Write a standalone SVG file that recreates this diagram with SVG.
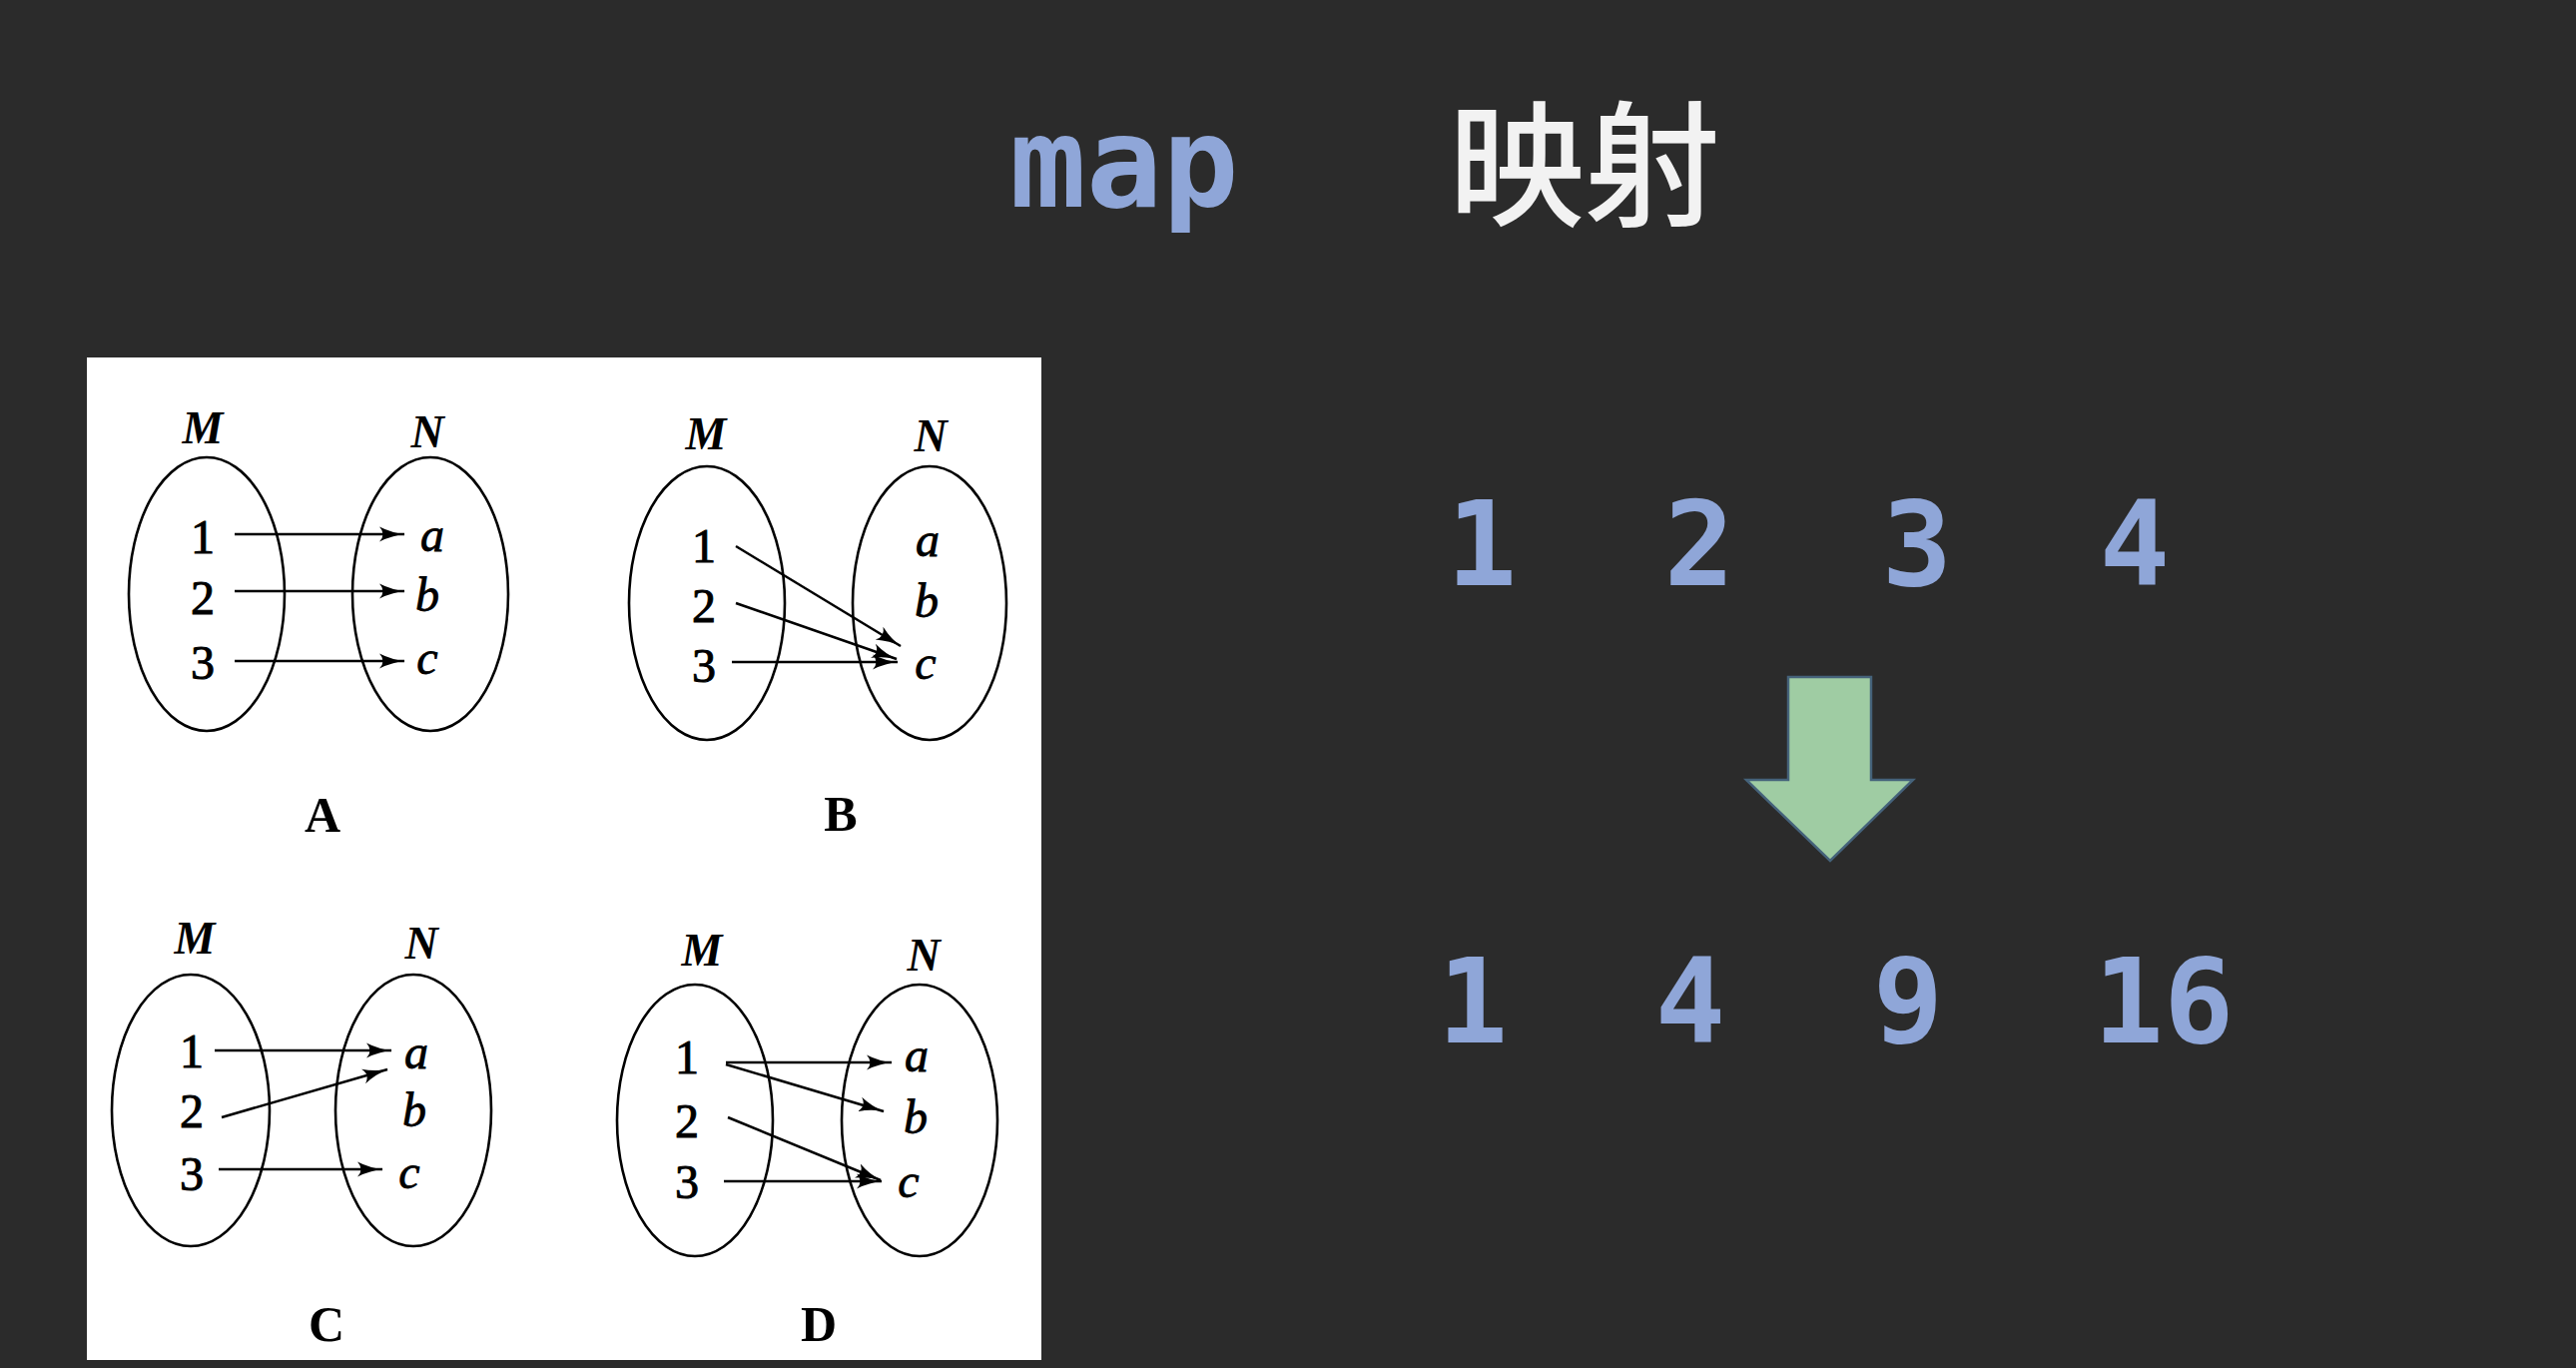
<svg xmlns="http://www.w3.org/2000/svg" width="2580" height="1370" viewBox="0 0 2580 1370">
<defs>
<style>
.bg{fill:#2b2b2b}
.panel{fill:#ffffff}
.set{fill:none;stroke:#000;stroke-width:2.6}
.lbl{font-family:"Liberation Serif","DejaVu Serif",serif;font-style:italic;font-weight:bold;font-size:46px;fill:#000;text-anchor:middle}
.dig{font-family:"Liberation Serif","DejaVu Serif",serif;font-size:48px;fill:#000;stroke:#000;stroke-width:1;text-anchor:middle}
.el{font-family:"Liberation Serif","DejaVu Serif",serif;font-style:italic;font-size:48px;fill:#000;stroke:#000;stroke-width:0.8;text-anchor:middle}
.cap{font-family:"Liberation Serif","DejaVu Serif",serif;font-weight:bold;font-size:50px;fill:#000;text-anchor:middle}
.ar{fill:none;stroke:#000;stroke-width:2.5;marker-end:url(#ah)}
.num{font-family:"DejaVu Sans Mono","Liberation Mono",monospace;font-weight:bold;font-size:117px;fill:#8fa6d8;text-anchor:middle}
.big{fill:#9fcca3;stroke:#45627a;stroke-width:2.5}
</style>
<marker id="ah" markerUnits="userSpaceOnUse" markerWidth="26" markerHeight="18" viewBox="0 0 26 18" refX="25" refY="9" orient="auto">
<path d="M0,1.5 Q13,8 26,9 Q13,10 0,16.5 Q7,9 0,1.5Z" fill="#000"/>
</marker>
</defs>
<rect class="bg" x="0" y="0" width="2580" height="1370"/>

<g id="title">
<text x="1126" y="207" text-anchor="middle" font-family="'DejaVu Sans Mono','Liberation Mono',monospace" font-weight="bold" font-size="127" fill="#8fa6d8">map</text>
<text x="1587" y="216" text-anchor="middle" font-family="'Noto Sans CJK SC',sans-serif" font-weight="500" font-size="136" fill="#f2f2f2">映射</text>
</g>

<rect id="figure-panel" class="panel" x="87" y="358" width="956" height="1004"/>

<g id="panel-A">
<text class="lbl" x="203" y="444">M</text>
<text class="lbl" x="428" y="448">N</text>
<ellipse id="A-M" class="set" cx="207" cy="595" rx="78" ry="137"/>
<ellipse id="A-N" class="set" cx="431" cy="595" rx="78" ry="137"/>
<text class="dig" x="203" y="554">1</text>
<text class="dig" x="203" y="615">2</text>
<text class="dig" x="203" y="680">3</text>
<text class="el" x="433" y="552">a</text>
<text class="el" x="428" y="612">b</text>
<text class="el" x="428" y="675">c</text>
<text class="cap" x="323" y="833">A</text>
</g>

<g id="panel-B">
<text class="lbl" x="707" y="450">M</text>
<text class="lbl" x="932" y="452">N</text>
<ellipse id="B-M" class="set" cx="708" cy="604" rx="78" ry="137"/>
<ellipse id="B-N" class="set" cx="931" cy="604" rx="77" ry="137"/>
<text class="dig" x="705" y="563">1</text>
<text class="dig" x="705" y="623">2</text>
<text class="dig" x="705" y="683">3</text>
<text class="el" x="929" y="557">a</text>
<text class="el" x="928" y="618">b</text>
<text class="el" x="927" y="680">c</text>
<text class="cap" x="842" y="832">B</text>
</g>

<g id="panel-C">
<text class="lbl" x="195" y="955">M</text>
<text class="lbl" x="422" y="960">N</text>
<ellipse id="C-M" class="set" cx="191" cy="1112" rx="79" ry="136"/>
<ellipse id="C-N" class="set" cx="414" cy="1112" rx="78" ry="136"/>
<text class="dig" x="192" y="1069">1</text>
<text class="dig" x="192" y="1129">2</text>
<text class="dig" x="192" y="1192">3</text>
<text class="el" x="417" y="1070">a</text>
<text class="el" x="415" y="1128">b</text>
<text class="el" x="410" y="1190">c</text>
<text class="cap" x="327" y="1343">C</text>
</g>

<g id="panel-D">
<text class="lbl" x="703" y="967">M</text>
<text class="lbl" x="925" y="972">N</text>
<ellipse id="D-M" class="set" cx="696" cy="1122" rx="78" ry="136"/>
<ellipse id="D-N" class="set" cx="921" cy="1122" rx="78" ry="136"/>
<text class="dig" x="688" y="1075">1</text>
<text class="dig" x="688" y="1139">2</text>
<text class="dig" x="688" y="1200">3</text>
<text class="el" x="918" y="1073">a</text>
<text class="el" x="917" y="1135">b</text>
<text class="el" x="910" y="1199">c</text>
<text class="cap" x="820" y="1343">D</text>
</g>

<g id="connectors">
<line class="ar" x1="235" y1="535" x2="405" y2="535"/>
<line class="ar" x1="235" y1="592" x2="405" y2="592"/>
<line class="ar" x1="235" y1="662" x2="405" y2="662"/>
<line class="ar" x1="737" y1="547" x2="902" y2="647"/>
<line class="ar" x1="737" y1="604" x2="898" y2="660"/>
<line class="ar" x1="733" y1="663" x2="899" y2="663"/>
<line class="ar" x1="215" y1="1052" x2="392" y2="1052"/>
<line class="ar" x1="222" y1="1119" x2="388" y2="1071"/>
<line class="ar" x1="219" y1="1171" x2="383" y2="1171"/>
<line class="ar" x1="727" y1="1064" x2="893" y2="1064"/>
<line class="ar" x1="727" y1="1066" x2="885" y2="1113"/>
<line class="ar" x1="729" y1="1119" x2="882" y2="1182"/>
<line class="ar" x1="725" y1="1183" x2="883" y2="1183"/>
</g>

<g id="input-row">
<text class="num" x="1484" y="586">1</text>
<text class="num" x="1702" y="586">2</text>
<text class="num" x="1920" y="586">3</text>
<text class="num" x="2138" y="586">4</text>
</g>

<g id="map-arrow">
<polygon class="big" points="1791,678 1874,678 1874,781 1916,781 1833,862 1749,781 1791,781"/>
</g>

<g id="output-row">
<text class="num" x="1475" y="1044">1</text>
<text class="num" x="1693" y="1044">4</text>
<text class="num" x="1911" y="1044">9</text>
<text class="num" x="2167" y="1044">16</text>
</g>
</svg>
